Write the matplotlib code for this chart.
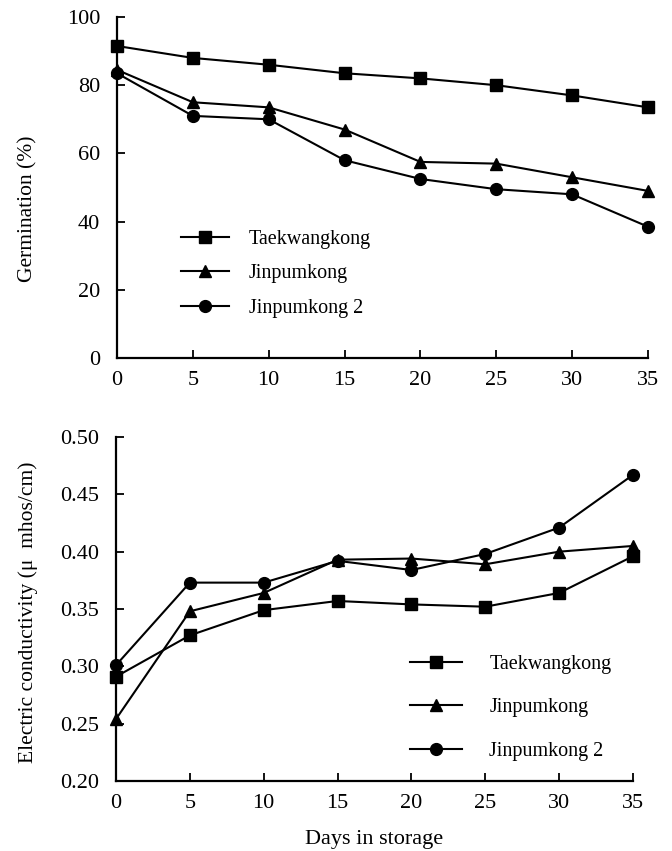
import matplotlib
matplotlib.use("Agg")
from matplotlib import pyplot as plt
import numpy as np

plt.rcParams['font.family'] = ['Liberation Serif', 'DejaVu Serif']

# 저장 일수
days = [0, 5, 10, 15, 20, 25, 30, 35]
names = ['Taekwangkong', 'Jinpumkong', 'Jinpumkong 2']
marks = ['s', '^', 'o']

# 발아율 (%)
germ_taek = [91.5, 88, 86, 83.5, 82, 80, 77, 73.5]
germ_jin = [84.5, 75, 73.5, 67, 57.5, 57, 53, 49]
germ_jin2 = [83.5, 71, 70, 58, 52.5, 49.5, 48, 38.5]

# 전기전도도 (μ mhos/cm)
ec_taek = [0.291, 0.327, 0.349, 0.357, 0.354, 0.352, 0.364, 0.396]
ec_jin = [0.254, 0.348, 0.364, 0.393, 0.394, 0.389, 0.400, 0.405]
ec_jin2 = [0.301, 0.373, 0.373, 0.392, 0.384, 0.398, 0.421, 0.467]

fig = plt.figure(figsize=(6.72, 8.51), dpi=100)
W, H = 672, 851
ax1 = fig.add_axes([117/W, 1-358/H, (648-117)/W, (358-17)/H])
ax2 = fig.add_axes([116/W, 1-781/H, (633-116)/W, (781-437)/H])

def style(ax):
    for s in ['top', 'right']:
        ax.spines[s].set_visible(False)
    for s in ['left', 'bottom']:
        ax.spines[s].set_linewidth(1.6)
    ax.tick_params(direction='in', length=6, width=1.3, labelsize=16)
    ax.tick_params(axis='y', pad=12)
    ax.tick_params(axis='x', pad=9)
    ax.set_xlim(0, 35)
    ax.set_xticks(days)

for ys, n, m in zip([germ_taek, germ_jin, germ_jin2], names, marks):
    ax1.plot(days, ys, color='black', lw=1.5, marker=m, ms=8.5, label=n, clip_on=False)
style(ax1)
ax1.set_ylim(0, 100)
ax1.set_yticks([0, 20, 40, 60, 80, 100])
ax1.set_ylabel('Germination (%)', fontsize=15.5)
ax1.yaxis.set_label_coords(-0.149, 0.437)
ax1.legend(loc='upper left', bbox_to_anchor=(0.087, 0.428), frameon=False,
           fontsize=14.5, handlelength=2.35, handletextpad=1.0, labelspacing=0.75)

for ys, n, m in zip([ec_taek, ec_jin, ec_jin2], names, marks):
    ax2.plot(days, ys, color='black', lw=1.5, marker=m, ms=8.5, label=n, clip_on=False)
style(ax2)
ax2.set_ylim(0.20, 0.50)
ax2.set_yticks(np.arange(0.20, 0.501, 0.05))
ax2.set_yticklabels(['0.20', '0.25', '0.30', '0.35', '0.40', '0.45', '0.50'])
ax2.set_ylabel('Electric conductivity (μ  mhos/cm)', fontsize=15.5)
ax2.yaxis.set_label_coords(-0.151, 0.49)
ax2.set_xlabel('Days in storage', fontsize=16)
ax2.xaxis.set_label_coords(0.5, -0.142)
ax2.legend(loc='upper left', bbox_to_anchor=(0.533, 0.419), frameon=False,
           fontsize=14.5, handlelength=2.6, handletextpad=1.35, labelspacing=1.2)

fig.savefig('out.png', dpi=100)
